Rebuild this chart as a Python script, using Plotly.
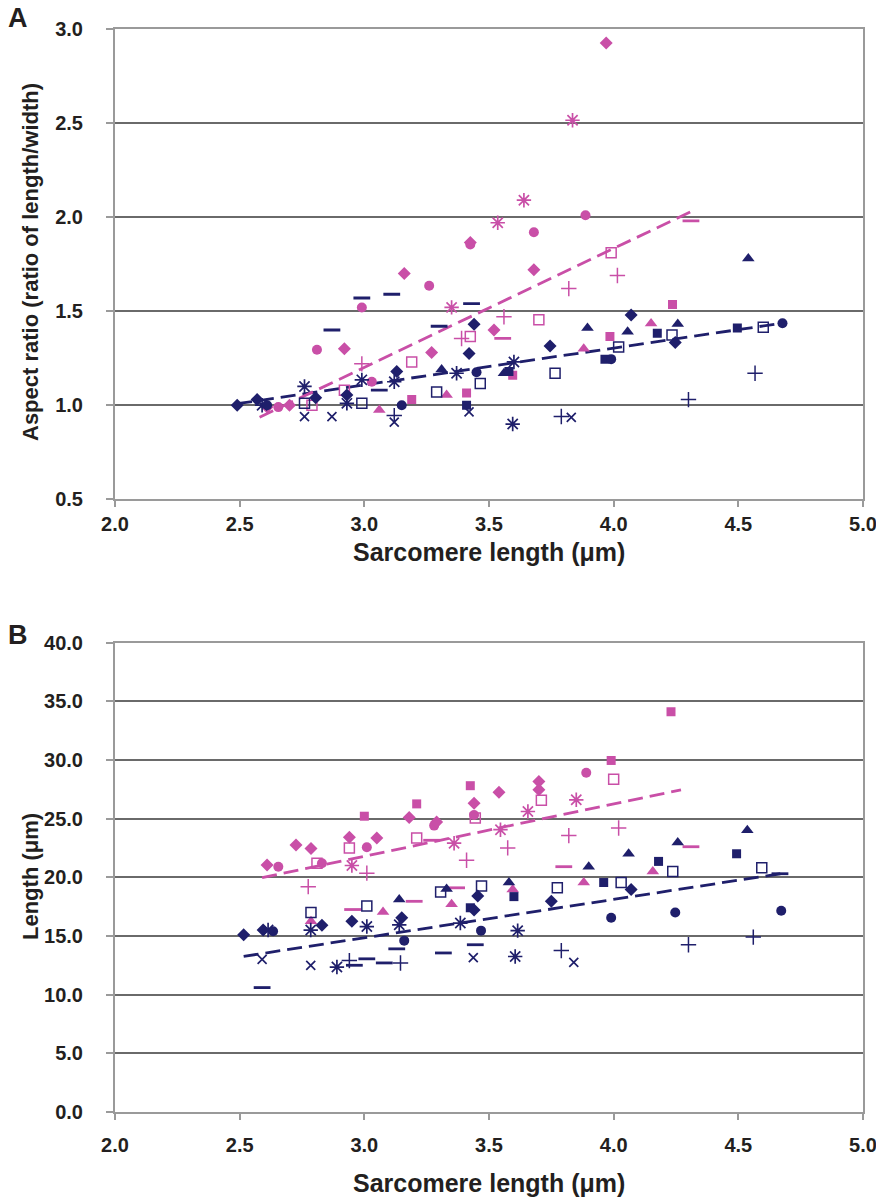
import numpy as np
import plotly.graph_objects as go

# ---------------- DATA ----------------
# symbol codes: D diamond, S filled square, T filled triangle, O open square,
# X cross, A asterisk, C circle, P plus, M dash
# Panel A: aspect ratio vs sarcomere length
a_navy_x = [2.49, 2.57, 2.59, 2.61, 2.76, 2.76, 2.76, 2.805, 2.87, 2.87, 2.93, 2.93, 2.99, 2.99, 2.99,
            3.06, 3.11, 3.13, 3.12, 3.15, 3.12, 3.12, 3.29, 3.31, 3.30, 3.37, 3.41, 3.42, 3.42, 3.44,
            3.43, 3.45, 3.465, 3.56, 3.58, 3.60, 3.595, 3.745, 3.765, 3.79, 3.83, 3.895, 3.965, 3.99,
            4.02, 4.056, 4.07, 4.175, 4.234, 4.257, 4.247, 4.30, 4.496, 4.54, 4.567, 4.60, 4.677]
a_navy_y = [1.00, 1.03, 1.00, 1.00, 1.10, 0.94, 1.01, 1.04, 1.40, 0.94, 1.055, 1.01, 1.57, 1.135, 1.01,
            1.08, 1.59, 1.18, 1.125, 1.00, 0.91, 0.945, 1.07, 1.19, 1.42, 1.17, 1.00, 0.965, 1.275, 1.43,
            1.54, 1.175, 1.115, 1.17, 1.18, 1.23, 0.90, 1.315, 1.17, 0.94, 0.935, 1.41, 1.245, 1.245,
            1.31, 1.39, 1.48, 1.383, 1.374, 1.432, 1.333, 1.03, 1.41, 1.78, 1.17, 1.414, 1.436]
a_navy_sym = ["D", "D", "A", "C", "A", "X", "O", "D", "M", "X", "D", "A", "M", "A", "O",
              "M", "M", "D", "A", "C", "X", "P", "O", "T", "M", "A", "S", "X", "D", "D",
              "M", "C", "O", "T", "S", "A", "A", "D", "O", "P", "X", "T", "S", "C",
              "O", "T", "D", "S", "O", "T", "D", "P", "S", "T", "P", "O", "C"]

a_pink_x = [2.61, 2.655, 2.70, 2.79, 2.81, 2.92, 2.92, 2.99, 2.99, 3.03, 3.06, 3.16, 3.19, 3.19,
            3.26, 3.27, 3.33, 3.35, 3.39, 3.425, 3.41, 3.425, 3.425, 3.52, 3.555, 3.56, 3.535, 3.595,
            3.64, 3.68, 3.68, 3.70, 3.82, 3.835, 3.97, 3.887, 3.88, 3.985, 3.99, 4.015, 4.15, 4.236, 4.31]
a_pink_y = [0.99, 0.99, 1.00, 1.00, 1.295, 1.30, 1.08, 1.52, 1.22, 1.125, 0.975, 1.70, 1.23, 1.03,
            1.635, 1.28, 1.055, 1.52, 1.355, 1.365, 1.065, 1.855, 1.865, 1.40, 1.355, 1.47, 1.97, 1.16,
            2.09, 1.92, 1.72, 1.455, 1.62, 2.515, 2.925, 2.01, 1.30, 1.365, 1.81, 1.69, 1.435, 1.535, 1.98]
a_pink_sym = ["D", "C", "D", "O", "C", "D", "O", "C", "P", "C", "T", "D", "O", "S",
              "C", "D", "T", "A", "P", "O", "S", "C", "D", "D", "M", "P", "A", "S",
              "A", "C", "D", "O", "P", "A", "D", "C", "T", "S", "O", "P", "T", "S", "M"]

# Panel B: length vs sarcomere length
b_navy_x = [2.516, 2.59, 2.59, 2.594, 2.614, 2.634, 2.786, 2.83, 2.785, 2.785, 2.89, 2.94, 2.96, 2.95,
            3.01, 3.01, 3.01, 3.08, 3.14, 3.15, 3.14, 3.16, 3.13, 3.145, 3.306, 3.33, 3.317, 3.385,
            3.425, 3.44, 3.437, 3.445, 3.455, 3.47, 3.468, 3.58, 3.60, 3.615, 3.605, 3.75, 3.774, 3.79,
            3.84, 3.90, 3.96, 3.99, 4.03, 4.07, 4.06, 4.18, 4.237, 4.257, 4.247, 4.30, 4.493, 4.536,
            4.56, 4.594, 4.672, 4.667]
b_navy_y = [15.1, 10.6, 13.0, 15.5, 15.5, 15.4, 17.0, 15.9, 15.5, 12.5, 12.35, 12.9, 12.5, 16.25,
            17.55, 15.8, 13.05, 12.7, 18.1, 16.55, 15.95, 14.6, 13.9, 12.7, 18.75, 19.0, 13.55, 16.1,
            17.4, 17.2, 13.15, 14.25, 18.4, 19.25, 15.45, 19.55, 18.35, 15.45, 13.25, 17.95, 19.1, 13.75,
            12.75, 20.9, 19.55, 16.55, 19.55, 18.95, 22.0, 21.35, 20.5, 22.95, 17.0, 14.25, 22.0, 24.0,
            14.9, 20.8, 17.15, 20.3]
b_navy_sym = ["D", "M", "X", "D", "A", "C", "O", "D", "A", "X", "A", "P", "M", "D",
              "O", "A", "M", "M", "T", "D", "A", "C", "M", "P", "O", "T", "M", "A",
              "S", "D", "X", "M", "D", "O", "C", "T", "S", "A", "A", "D", "O", "P",
              "X", "T", "S", "C", "O", "D", "T", "S", "O", "T", "C", "P", "S", "T",
              "P", "O", "C", "M"]

b_pink_x = [2.61, 2.655, 2.726, 2.786, 2.775, 2.786, 2.81, 2.83, 2.94, 2.94, 2.95, 2.953, 3.0, 3.01,
            3.01, 3.05, 3.075, 3.18, 3.21, 3.21, 3.2, 3.27, 3.28, 3.29, 3.36, 3.35, 3.37, 3.41, 3.425,
            3.44, 3.44, 3.445, 3.54, 3.546, 3.575, 3.595, 3.656, 3.70, 3.70, 3.71, 3.80, 3.82, 3.85,
            3.88, 3.89, 3.99, 4.0, 4.02, 4.157, 4.31, 4.23]
b_pink_y = [21.05, 20.9, 22.75, 22.45, 19.2, 16.25, 21.2, 21.2, 23.4, 22.5, 21.0, 17.25, 25.2, 22.55,
            20.35, 23.35, 17.05, 25.1, 26.25, 23.35, 17.95, 23.15, 24.4, 24.7, 22.9, 17.7, 19.1, 21.45, 27.8,
            26.3, 25.3, 25.05, 27.25, 24.05, 22.5, 18.95, 25.6, 28.15, 27.45, 26.55, 20.9, 23.55, 26.6,
            19.55, 28.9, 29.95, 28.35, 24.2, 20.5, 22.6, 34.1]
b_pink_sym = ["D", "C", "D", "D", "P", "T", "O", "C", "D", "O", "A", "M", "S", "C",
              "P", "D", "T", "D", "S", "O", "M", "M", "C", "D", "A", "T", "M", "P", "S",
              "D", "C", "O", "D", "A", "P", "T", "A", "D", "D", "O", "M", "P", "A",
              "T", "C", "S", "O", "P", "T", "M", "S"]

# linear trend lines: [x_start, x_end], slope, value at x_start
a_navy_trend_x = [2.49, 4.68]; a_navy_trend_slope = 0.196; a_navy_trend_y0 = 1.008
a_pink_trend_x = [2.58, 4.31]; a_pink_trend_slope = 0.632; a_pink_trend_y0 = 0.936
b_navy_trend_x = [2.516, 4.67]; b_navy_trend_slope = 3.27; b_navy_trend_y0 = 13.26
b_pink_trend_x = [2.59, 4.27]; b_pink_trend_slope = 4.46; b_pink_trend_y0 = 19.96

x_ticks = [2.0, 2.5, 3.0, 3.5, 4.0, 4.5, 5.0]
a_y_ticks = [0.5, 1.0, 1.5, 2.0, 2.5, 3.0]
b_y_ticks = [0.0, 5.0, 10.0, 15.0, 20.0, 25.0, 30.0, 35.0, 40.0]

# ---------------- STYLE ----------------
NAVY = "#1F1F6B"
PINK = "#C94FA7"
TXT = "#231F20"
FONT = "Liberation Sans, Arial, sans-serif"

SYM = {"D": "diamond", "S": "square", "T": "triangle-up", "O": "square-open",
       "X": "x-thin-open", "A": "asterisk-open", "C": "circle", "P": "cross-thin-open",
       "M": "line-ew-open"}
SIZE = {"D": 10, "S": 9, "T": 11, "O": 10, "X": 9, "A": 12, "C": 10, "P": 11, "M": 12}
LW = {"D": 0, "S": 0, "T": 0, "O": 1.5, "X": 1.7, "A": 1.7, "C": 0, "P": 1.5, "M": 2.8}

ML, MR, MT, MB = 115, 13, 29, 85
W, H = 876, 1197
PW, PH = W - ML - MR, H - MT - MB

fig = go.Figure()


def add_points(xs, ys, syms, color, xa, ya):
    fig.add_trace(go.Scatter(
        x=xs, y=ys, mode="markers", xaxis=xa, yaxis=ya, showlegend=False,
        marker=dict(symbol=[SYM[s] for s in syms], size=[SIZE[s] for s in syms], color=color,
                    opacity=1,
                    line=dict(color=color, width=[LW[s] for s in syms]))))


def add_trend(xr, slope, y0, color, xa, ya):
    xs = np.array(xr, dtype=float)
    ys = y0 + slope * (xs - xs[0])
    fig.add_trace(go.Scatter(x=xs, y=ys, mode="lines", xaxis=xa, yaxis=ya, showlegend=False,
                             line=dict(color=color, width=2.8, dash="15px,7px")))


add_trend(a_navy_trend_x, a_navy_trend_slope, a_navy_trend_y0, NAVY, "x", "y")
add_trend(a_pink_trend_x, a_pink_trend_slope, a_pink_trend_y0, PINK, "x", "y")
add_points(a_pink_x, a_pink_y, a_pink_sym, PINK, "x", "y")
add_points(a_navy_x, a_navy_y, a_navy_sym, NAVY, "x", "y")

add_trend(b_navy_trend_x, b_navy_trend_slope, b_navy_trend_y0, NAVY, "x2", "y2")
add_trend(b_pink_trend_x, b_pink_trend_slope, b_pink_trend_y0, PINK, "x2", "y2")
add_points(b_pink_x, b_pink_y, b_pink_sym, PINK, "x2", "y2")
add_points(b_navy_x, b_navy_y, b_navy_sym, NAVY, "x2", "y2")

tickfont = dict(family=FONT, size=20, color=TXT, weight="bold")
xcommon = dict(range=[2.0, 5.0], tickvals=x_ticks, tickformat=".1f", showgrid=False, zeroline=False,
               showline=True, linecolor="#9a9a9a", linewidth=2, mirror=True,
               ticks="outside", ticklen=6, tickcolor="#9a9a9a", tickwidth=1.5, tickfont=tickfont,
               ticklabeloverflow="allow", automargin=False)
ycommon = dict(showgrid=True, gridcolor="#6a6a6a", gridwidth=2.2, zeroline=False, tickformat=".1f",
               showline=True, linecolor="#9a9a9a", linewidth=2, mirror=True,
               ticks="outside", ticklen=7, tickcolor="#9a9a9a", tickwidth=1.5, tickfont=tickfont,
               ticklabelstandoff=19, automargin=False)


def py(pix):  # page pixel row -> paper y
    return (H - MB - pix) / PH


def px(pix):  # page pixel column -> paper x
    return (pix - ML) / PW


fig.update_layout(
    width=W, height=H,
    margin=dict(l=ML, r=MR, t=MT, b=MB),
    paper_bgcolor="white", plot_bgcolor="white",
    xaxis=dict(domain=[0, 1], anchor="y", **xcommon),
    yaxis=dict(domain=[py(499.3), 1.0], anchor="x", range=[0.5, 3.0], tickvals=a_y_ticks, **ycommon),
    xaxis2=dict(domain=[0, 1], anchor="y2", ticklabelstandoff=8, **xcommon),
    yaxis2=dict(domain=[0.0, py(642.5)], anchor="x2", range=[0, 40], tickvals=b_y_ticks, **ycommon),
)

ylab = dict(family=FONT, size=22, color=TXT, weight="bold")
xlab = dict(family=FONT, size=25, color=TXT, weight="bold")
big = dict(family=FONT, size=27, color=TXT, weight="bold")
ann = [
    dict(text="A", x=px(18), y=py(18), font=big),
    dict(text="B", x=px(18), y=py(635), font=big),
    dict(text="Aspect ratio (ratio of length/width)", x=px(30), y=py(262), textangle=-90, font=ylab),
    dict(text="Length (μm)", x=px(30), y=py(877), textangle=-90, font=ylab),
    dict(text="Sarcomere length (μm)", x=px(489), y=py(552), font=xlab),
    dict(text="Sarcomere length (μm)", x=px(489), y=py(1183), font=xlab),
]
for a in ann:
    fig.add_annotation(xref="paper", yref="paper", showarrow=False,
                       xanchor="center", yanchor="middle", **a)

fig.write_html(
    "out.html",
    config={"displayModeBar": False},
    post_script="document.body.style.margin='0';document.body.style.padding='0';"
                "document.documentElement.style.overflow='hidden';",
)
